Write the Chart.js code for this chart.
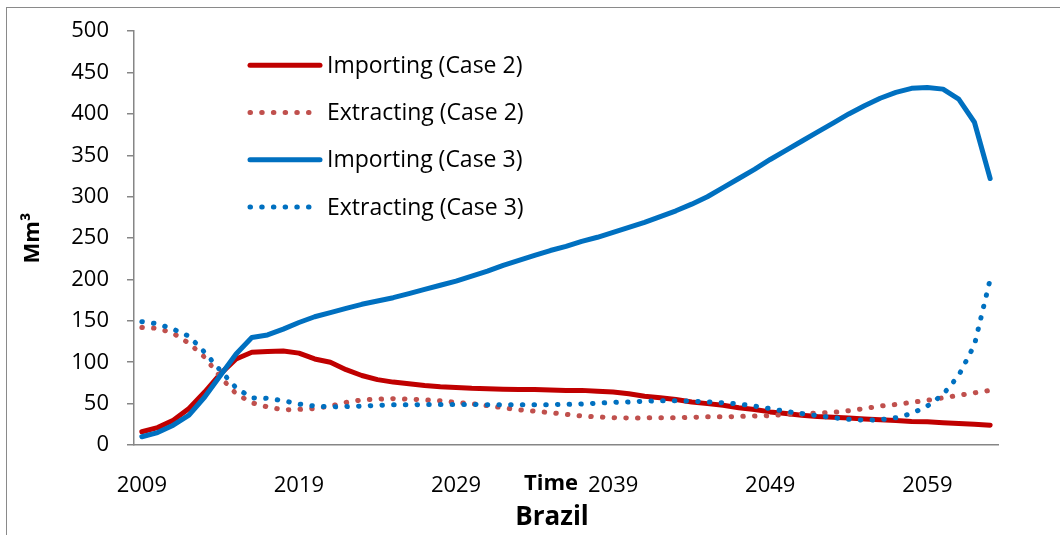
<!DOCTYPE html>
<html><head><meta charset="utf-8">
<script src="https://cdn.jsdelivr.net/npm/chart.js@4.4.0/dist/chart.umd.min.js"></script>
<style>
html,body{margin:0;padding:0;background:#fff;overflow:hidden;}
#wrap{position:relative;width:1060px;height:535px;overflow:hidden;}
#frame{position:absolute;left:6px;top:7px;width:1100px;height:600px;border:1.5px solid #8a8a8a;box-sizing:border-box;pointer-events:none}
canvas{position:absolute;left:0;top:0}
</style></head><body>
<div id="wrap"><canvas id="c" width="1060" height="535"></canvas><div id="frame"></div></div>
<script>
const years = ['2009','2010','2011','2012','2013','2014','2015','2016','2017','2018',
  '2019','2020','2021','2022','2023','2024','2025','2026','2027','2028',
  '2029','2030','2031','2032','2033','2034','2035','2036','2037','2038',
  '2039','2040','2041','2042','2043','2044','2045','2046','2047','2048',
  '2049','2050','2051','2052','2053','2054','2055','2056','2057','2058',
  '2059','2060','2061','2062','2063'];
const tickLabels = ['2009','2019','2029','2039','2049','2059'];
const importingCase2 = [16,21,30,44,64,86,104,112,113,113.5,
  111,104,100,91,84,79,76,74,72,70.5,
  69.5,68.5,68,67.5,67,67,66.5,66,66,65,
  64,62,59,57,55,52,50,48,45,43,
  40,38,36,34.5,33.5,32.5,31.5,30.5,29.5,28.5,
  28,27,26,25,24];
const extractingCase2 = [142,141,135,123,106,82,62,51,46,42.5,
  43,44,47,51.5,54.5,55.5,56,55.5,54.5,53.5,
  51.5,50,47.5,45,42.5,41,39,37,35,34,
  33,32.7,32.7,33,33,33.5,34,34,34.5,35,
  35.5,37,37.5,38.5,39.5,41.5,44,47,49,51.5,
  54,57,60,63,66];
const importingCase3 = [10,15,24,36,58,84,110,130,133,140,
  148,155,160,165,170,174,178,183,188,193,
  198,204,210,217,223,229,235,240,246,251,
  257,263,269,276,283,291,300,311,322,333,
  345,356,367,378,389,400,410,419,426,431,
  432,430,418,390,322];
const extractingCase3 = [149,146.5,140,131.5,112,90,69,57,56.5,53.5,
  49.5,47,46,46.5,47,48,48.5,48.5,49,49,
  49,49,48.7,48.7,48.7,48.7,48.7,49,49.5,50.5,
  51.5,52,53,53.5,53.5,53,52,51,49.5,47,
  44,40.5,38,35.5,33,31,30,30.5,33,38,
  47,61,84,121,200];
const seriesNames = ['Importing (Case 2)','Extracting (Case 2)','Importing (Case 3)','Extracting (Case 3)'];

Chart.defaults.font.family = "'Open Sans', 'Noto Sans', sans-serif";
Chart.defaults.color = '#000';

const overlay = {
  id: 'overlay',
  afterDraw(chart) {
    const ctx = chart.ctx, a = chart.chartArea;
    ctx.save();
    const lx = a.left + 116, ly = a.top + 34, step = 47.3;
    chart.data.datasets.forEach((ds, i) => {
      const y = ly + i * step;
      ctx.strokeStyle = ds.borderColor;
      ctx.lineWidth = ds.borderWidth;
      ctx.lineCap = 'round';
      ctx.setLineDash(ds.borderDash || []);
      ctx.beginPath();
      ctx.moveTo(lx, y);
      ctx.lineTo(ds.borderDash ? lx + 61 : lx + 70, y);
      ctx.stroke();
      ctx.setLineDash([]);
      ctx.fillStyle = '#000';
      ctx.font = "23px 'Open Sans'";
      ctx.textAlign = 'left';
      ctx.textBaseline = 'middle';
      ctx.fillText(ds.label, lx + 77, y + 1);
    });
    ctx.textAlign = 'center';
    ctx.textBaseline = 'middle';
    ctx.font = "bold 22px 'Open Sans'";
    ctx.fillText('Time', a.left + 417, a.bottom + 39);
    ctx.font = "bold 26px 'Open Sans'";
    ctx.fillText('Brazil', a.left + 418, a.bottom + 73);
    ctx.restore();
  }
};

const dotted = [0.5, 11.2];
new Chart(document.getElementById('c'), {
  type: 'line',
  data: {
    labels: years,
    datasets: [
      {label: seriesNames[0], data: importingCase2, borderColor: '#C00000', borderWidth: 5, pointRadius: 0, tension: 0, order: 3, borderCapStyle: 'round', borderJoinStyle: 'round'},
      {label: seriesNames[1], data: extractingCase2, borderColor: '#C0504D', borderWidth: 5, borderDash: dotted, borderCapStyle: 'round', pointRadius: 0, tension: 0, order: 2},
      {label: seriesNames[2], data: importingCase3, borderColor: '#0070C0', borderWidth: 5, pointRadius: 0, tension: 0, order: 1, borderCapStyle: 'round', borderJoinStyle: 'round'},
      {label: seriesNames[3], data: extractingCase3, borderColor: '#0070C0', borderWidth: 5, borderDash: dotted, borderCapStyle: 'round', pointRadius: 0, tension: 0, order: 0}
    ]
  },
  options: {
    responsive: false,
    animation: false,
    devicePixelRatio: 1,
    layout: {padding: {left: 0, top: 28, right: 62, bottom: 0}},
    plugins: {legend: {display: false}, tooltip: {enabled: false}, title: {display: false}},
    scales: {
      x: {
        type: 'category',
        offset: true,
        grid: {display: false, drawTicks: false},
        border: {display: true, color: '#868686', width: 1.5},
        ticks: {
          autoSkip: false, maxRotation: 0, minRotation: 0, padding: 28,
          font: {size: 22},
          callback: function(v, i) { return tickLabels.includes(years[i]) ? years[i] : ''; }
        },
        afterFit(s) { s.height = 90; }
      },
      y: {
        min: 0, max: 500,
        grid: {display: true, drawOnChartArea: false, drawTicks: true, tickLength: 7, color: '#868686', lineWidth: 1.5},
        border: {display: true, color: '#868686', width: 1.5},
        ticks: {stepSize: 50, padding: 18, font: {size: 22}},
        title: {display: true, text: 'Mm³', font: {size: 22, weight: 'bold'}, padding: {top: 20, bottom: 0}},
        afterFit(s) { s.width = 134; }
      }
    }
  },
  plugins: [overlay]
});
</script>
</body></html>
